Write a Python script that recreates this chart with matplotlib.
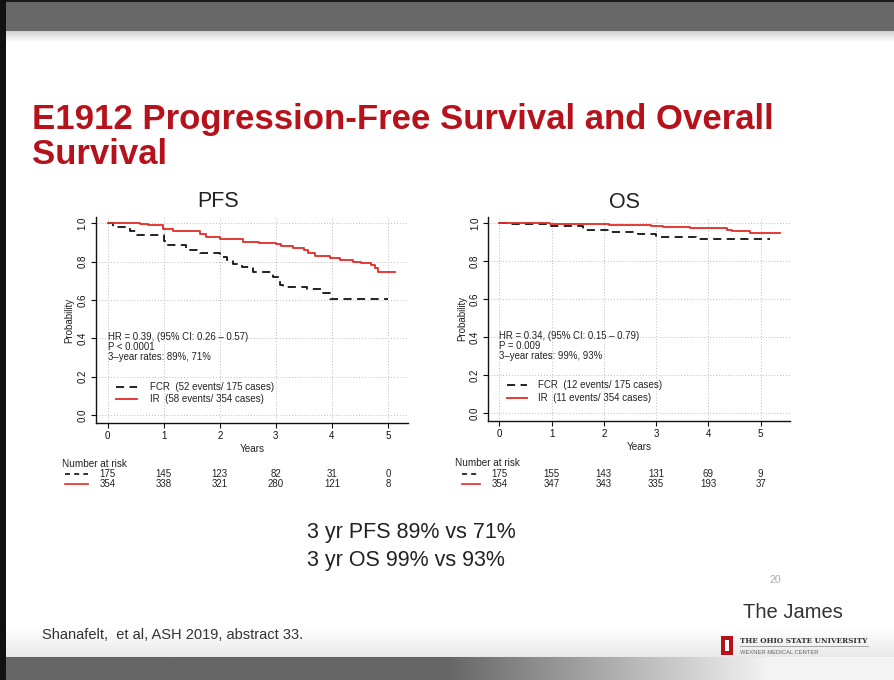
import numpy as np
import matplotlib
matplotlib.use("Agg")
import matplotlib.pyplot as plt
from matplotlib.patches import Rectangle
from matplotlib.transforms import blended_transform_factory

plt.rcParams['font.family'] = ['Liberation Sans', 'DejaVu Sans']

# ---------------- data ----------------
pfs_ir_t = [0, 0.58, 0.72, 0.99, 1.17, 1.64, 1.76, 2.0, 2.42, 2.7, 3.0, 3.1, 3.3, 3.5,
            3.57, 3.7, 3.96, 4.14, 4.38, 4.52, 4.7, 4.76, 4.82, 5.12]
pfs_ir_s = [1.0, 0.995, 0.99, 0.969, 0.96, 0.945, 0.93, 0.92, 0.905, 0.895, 0.89, 0.88,
            0.87, 0.86, 0.845, 0.83, 0.82, 0.81, 0.80, 0.795, 0.78, 0.765, 0.745, 0.745]
pfs_fcr_t = [0, 0.1, 0.4, 0.52, 1.0, 1.05, 1.4, 1.64, 2.0, 2.12, 2.24, 2.39, 2.6, 2.95,
             3.07, 3.13, 3.55, 3.81, 3.96, 5.0]
pfs_fcr_s = [1.0, 0.98, 0.96, 0.94, 0.91, 0.885, 0.86, 0.843, 0.826, 0.81, 0.79, 0.774,
             0.748, 0.72, 0.678, 0.666, 0.656, 0.635, 0.604, 0.604]

os_ir_t = [0, 0.97, 1.6, 2.1, 2.9, 3.14, 3.65, 4.35, 4.45, 4.8, 5.37]
os_ir_s = [1.0, 0.997, 0.995, 0.99, 0.986, 0.979, 0.974, 0.965, 0.96, 0.947, 0.947]
os_fcr_t = [0, 0.14, 0.97, 1.6, 2.1, 2.66, 3.0, 3.77, 5.18]
os_fcr_s = [1.0, 0.995, 0.988, 0.965, 0.956, 0.944, 0.93, 0.916, 0.916]

risk_years = [0, 1, 2, 3, 4, 5]
pfs_risk_fcr = [175, 145, 123, 82, 31, 0]
pfs_risk_ir = [354, 338, 321, 280, 121, 8]
os_risk_fcr = [175, 155, 143, 131, 69, 9]
os_risk_ir = [354, 347, 343, 335, 193, 37]

pfs_stats = ["HR = 0.39, (95% CI: 0.26 \u2013 0.57)", "P < 0.0001", "3\u2013year rates: 89%, 71%"]
os_stats = ["HR = 0.34, (95% CI: 0.15 \u2013 0.79)", "P = 0.009", "3\u2013year rates: 99%, 93%"]
pfs_legend = ["FCR  (52 events/ 175 cases)", "IR  (58 events/ 354 cases)"]
os_legend = ["FCR  (12 events/ 175 cases)", "IR  (11 events/ 354 cases)"]

RED = '#e52a24'
TXT = '#222222'
DASH = (0, (4.5, 3))

W, H = 894, 680
fig = plt.figure(figsize=(W / 100, H / 100), dpi=100)
fig.patch.set_facecolor('white')

def px(x0, y0, x1, y1):
    return [x0 / W, 1 - y1 / H, (x1 - x0) / W, (y1 - y0) / H]

def fy(y):
    return 1 - y / H

# ------------- slide decorations -------------
bg = fig.add_axes([0, 0, 1, 1], zorder=-10)
bg.set_xlim(0, W); bg.set_ylim(H, 0); bg.axis('off')
bg.add_patch(Rectangle((0, 0), W, 31, color='#686868', lw=0))
bg.add_patch(Rectangle((0, 0), W, 2, color='#1a1a1a', lw=0))
grad_top = np.linspace(0.82, 1.0, 12).reshape(-1, 1)
bg.imshow(grad_top, cmap='gray', vmin=0, vmax=1, extent=(0, W, 43, 31), aspect='auto', zorder=0)
grad_b = np.linspace(1.0, 0.91, 30).reshape(-1, 1)
bg.imshow(grad_b, cmap='gray', vmin=0, vmax=1, extent=(0, W, 657, 627), aspect='auto', zorder=0)
xs = np.linspace(0, 1, 300)
vals = np.where(xs < 0.5, 0.40, 0.40 + (xs - 0.5) / 0.36 * 0.55)
vals = np.clip(vals, 0.40, 0.95).reshape(1, -1)
bg.imshow(vals, cmap='gray', vmin=0, vmax=1, extent=(0, W, H, 657), aspect='auto', zorder=0)
bg.add_patch(Rectangle((0, 0), 6, H, color='#111111', lw=0, zorder=2))
bg.set_xlim(0, W); bg.set_ylim(H, 0)

# title
fig.text(32 / W, fy(129), "E1912 Progression-Free Survival and Overall", color='#b5121b',
         fontsize=25, fontweight='bold', va='baseline', ha='left')
fig.text(32 / W, fy(164), "Survival", color='#b5121b',
         fontsize=25, fontweight='bold', va='baseline', ha='left')

fig.text(218 / W, fy(207), "PFS", fontsize=15.5, ha='center', va='baseline', color=TXT)
fig.text(625 / W, fy(208), "OS", fontsize=15.5, ha='center', va='baseline', color=TXT)

fig.text(307 / W, fy(538), "3 yr PFS 89% vs 71%", fontsize=15.5, ha='left', va='baseline', color=TXT)
fig.text(307 / W, fy(566), "3 yr OS 99% vs 93%", fontsize=15.5, ha='left', va='baseline', color=TXT)

fig.text(775 / W, fy(580), "20", fontsize=7.5, ha='center', va='center', color='#aaaaaa')
fig.text(793 / W, fy(613), "The James", fontsize=14.5, ha='center', va='center', color='#333333')
fig.text(42 / W, fy(635), "Shanafelt,  et al, ASH 2019, abstract 33.", fontsize=10.5,
         ha='left', va='center', color='#333333')
# OSU logo
bg.add_patch(Rectangle((721, 636), 12, 19, color='#b5121b', lw=0, zorder=3))
bg.add_patch(Rectangle((725, 640), 4, 11, color='white', lw=0, zorder=4))
fig.text(740 / W, fy(641), "THE OHIO STATE UNIVERSITY", fontsize=5.2, family='DejaVu Serif',
         fontweight='bold', ha='left', va='center', color='#333333')
bg.plot([740, 868], [646, 646], color='#999999', lw=0.6, zorder=3)
fig.text(740 / W, fy(652), "WEXNER MEDICAL CENTER", fontsize=4.2,
         ha='left', va='center', color='#666666')

# ------------- KM panels -------------
def km_panel(rect, xlim, ylim, ir_t, ir_s, fcr_t, fcr_s, stats, legend, risk_fcr, risk_ir,
             risk_y, nr_x):
    ax = fig.add_axes(rect)
    ax.set_facecolor('none')
    ax.set_xlim(*xlim); ax.set_ylim(*ylim)
    for s in ['top', 'right']:
        ax.spines[s].set_visible(False)
    for s in ['left', 'bottom']:
        ax.spines[s].set_linewidth(1.0)
        ax.spines[s].set_color('#111111')
    ax.set_xticks(risk_years)
    ax.set_yticks([0, 0.2, 0.4, 0.6, 0.8, 1.0])
    ax.set_yticklabels(['0.0', '0.2', '0.4', '0.6', '0.8', '1.0'], rotation=90, va='center')
    ax.tick_params(labelsize=7, length=3.6, width=0.8, colors='#111111', pad=2.5)
    ax.grid(True, color='#bbbbbb', linestyle=(0, (1, 2)), linewidth=0.7)
    ax.set_axisbelow(True)
    ax.set_ylabel("Probability", fontsize=7, labelpad=2, color=TXT)
    ax.set_xlabel("Years", fontsize=7.2, labelpad=2, color=TXT)
    ax.step(fcr_t, fcr_s, where='post', color='#111111', lw=1.3, linestyle=DASH)
    ax.step(ir_t, ir_s, where='post', color=RED, lw=1.3)
    for txt, yy in zip(stats, [0.405, 0.355, 0.303]):
        ax.text(0, yy, txt, fontsize=6.9, color=TXT, ha='left', va='center')
    ax.plot([0.15, 0.53], [0.148, 0.148], color='#111111', lw=1.3, linestyle=DASH)
    ax.plot([0.15, 0.53], [0.082, 0.082], color=RED, lw=1.3)
    ax.text(0.75, 0.148, legend[0], fontsize=7.0, color=TXT, va='center')
    ax.text(0.75, 0.082, legend[1], fontsize=7.0, color=TXT, va='center')
    # number at risk
    tr = blended_transform_factory(ax.transData, fig.transFigure)
    y0, y1, y2 = risk_y
    fig.text(nr_x[0] / W, fy(y0), "Number at risk", fontsize=7.2, color=TXT, va='center')
    for x, a, b in zip(risk_years, risk_fcr, risk_ir):
        ax.text(x, fy(y1), str(a), transform=tr, fontsize=7.0, ha='center', va='center',
                color=TXT, clip_on=False)
        ax.text(x, fy(y2), str(b), transform=tr, fontsize=7.0, ha='center', va='center',
                color=TXT, clip_on=False)
    bg.plot([nr_x[1], nr_x[2]], [y1, y1], color='#111111', lw=1.2, linestyle=(0, (3, 2.5)))
    bg.plot([nr_x[1], nr_x[2]], [y2, y2], color=RED, lw=1.2)
    return ax

km_panel(px(95.7, 217, 408, 423), (-0.214, 5.357), (-0.042, 1.033),
         pfs_ir_t, pfs_ir_s, pfs_fcr_t, pfs_fcr_s, pfs_stats, pfs_legend,
         pfs_risk_fcr, pfs_risk_ir, (464, 474, 484), (62, 65, 88))
km_panel(px(488.3, 216.7, 790, 420.7), (-0.21, 5.56), (-0.039, 1.035),
         os_ir_t, os_ir_s, os_fcr_t, os_fcr_s, os_stats, os_legend,
         os_risk_fcr, os_risk_ir, (463, 474, 484), (455, 462, 480))

fig.savefig("out.png", dpi=100)
